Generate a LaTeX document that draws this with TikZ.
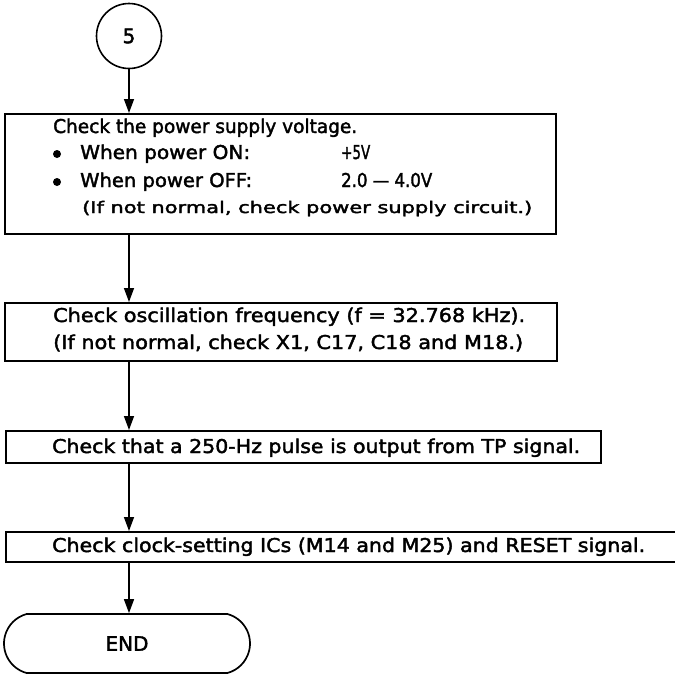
\documentclass[tikz,border=0pt]{standalone}
\usepackage{fontspec}
\usepackage{graphicx}
\setmainfont{DejaVu Sans}[FakeBold=2]
\usetikzlibrary{arrows.meta,shapes.misc}
\newcommand\fitw[2]{\setbox0=\hbox{#2}\pgfmathsetmacro\myfx{#1/\wd0}\scalebox{\myfx}[1]{\box0}}
\tikzset{
  box/.style={draw, line width=1.7pt, anchor=north west, inner sep=0pt},
  txt/.style={anchor=base west, inner sep=0pt, font=\fontsize{19}{21}\selectfont},
  small/.style={anchor=base west, inner sep=0pt, font=\fontsize{16}{18}\selectfont},
  arr/.style={line width=1.4pt, -{Triangle[length=14pt,width=10pt]}},
  dot/.style={circle, fill, inner sep=0pt, minimum size=8pt},
}
\begin{document}
\begin{tikzpicture}[x=1pt,y=-1pt]
\useasboundingbox (0,0) rectangle (675,675);
\clip (0,0) rectangle (675,675);
% start connector
\node[draw, circle, line width=1.6pt, minimum size=65pt, inner sep=0pt, font=\fontsize{20}{22}\selectfont] (c5) at (129,36) {5};
% box 1
\node[box, minimum width=551pt, minimum height=120pt] (b1) at (4,113) {};
\node[txt] (t1) at (53,133) {\fitw{304}{Check the power supply voltage.}};
\node[dot] (d1) at (57,154) {};
\node[txt] (t2) at (80,159) {\fitw{170}{When power ON:}};
\node[txt] (t3) at (341,159) {\fitw{29}{+5V}};
\node[dot] (d2) at (57,182) {};
\node[txt] (t4) at (80,187) {\fitw{172}{When power OFF:}};
\node[txt] (t5) at (341,187) {\fitw{91}{2.0 — 4.0V}};
\node[small] (t6) at (82,213) {\fitw{450}{(If not normal, check power supply circuit.)}};
% box 2
\node[box, minimum width=552pt, minimum height=58pt] (b2) at (4,302) {};
\node[txt] (t7) at (53,322) {\fitw{472}{Check oscillation frequency (f = 32.768 kHz).}};
\node[txt] (t8) at (53,349) {\fitw{470}{(If not normal, check X1, C17, C18 and M18.)}};
% box 3
\node[box, minimum width=595pt, minimum height=32pt] (b3) at (5,430) {};
\node[txt] (t9) at (52,453) {\fitw{528}{Check that a 250-Hz pulse is output from TP signal.}};
% box 4
\node[box, minimum width=700pt, minimum height=30pt] (b4) at (5,531) {};
\node[txt] (t10) at (52,552) {\fitw{593}{Check clock-setting ICs (M14 and M25) and RESET signal.}};
% end
\node[draw, rounded rectangle, rounded rectangle arc length=150, line width=1.7pt, minimum width=246pt, minimum height=59pt, inner sep=0pt, font=\fontsize{20}{22}\selectfont] (end) at (127,643.5) {END};
% connectors
\draw[arr] (c5.south) -- (c5.south |- b1.north);
\draw[arr] (b1.south -| c5) -- (b2.north -| c5);
\draw[arr] (b2.south -| c5) -- (b3.north -| c5);
\draw[arr] (b3.south -| c5) -- (b4.north -| c5);
\draw[arr] (b4.south -| c5) -- (end.north -| c5);
\end{tikzpicture}
\end{document}
